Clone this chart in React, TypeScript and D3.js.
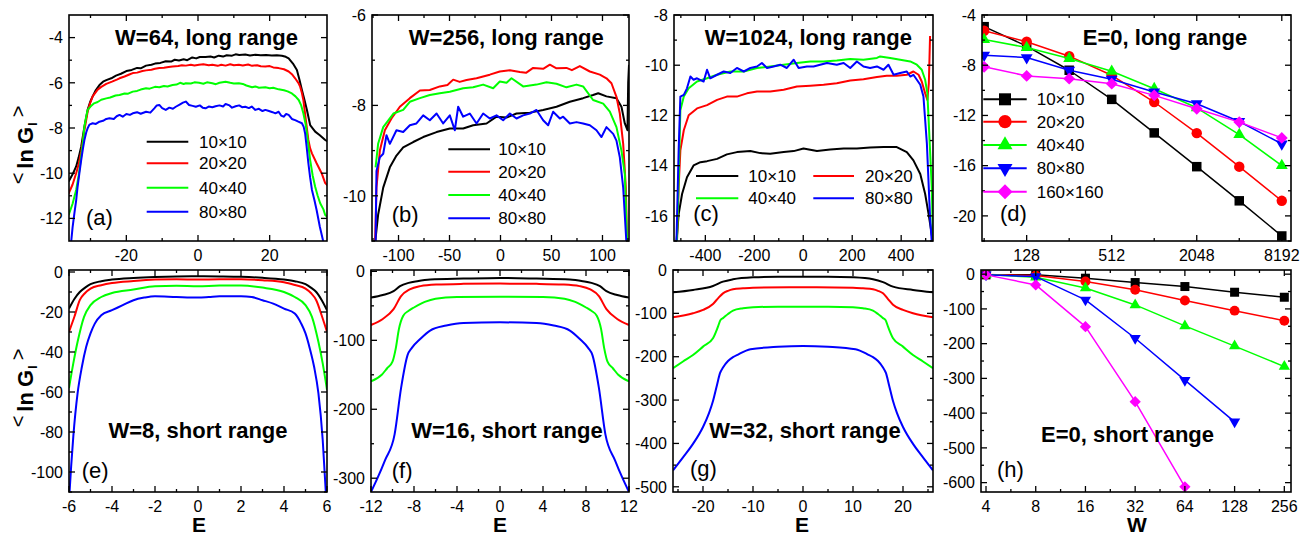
import React from 'react';
import * as d3 from 'd3';

type Pt = [number, number];

const FONT = "'Liberation Sans', Arial, Helvetica, sans-serif";

// ---------- shared labels ----------
const SIZES = ['10×10', '20×20', '40×40', '80×80', '160×160'];
const COLORS = ['#000000', '#ff0000', '#00ff00', '#0000ff', '#ff00ff'];
const MARKERS = ['square', 'circle', 'up', 'down', 'diamond'];

// ---------- (a) W=64, long range ----------
const a10: Pt[] = [[-36.1,-10.37],[-35,-10.05],[-34,-9.7],[-33.3,-9.3],[-32.6,-8.83],[-31.7,-7.94],[-30.8,-7.2],[-30.1,-6.85],[-29.4,-6.6],[-28.5,-6.32],[-27.5,-6.1],[-26.5,-5.95],[-25.6,-5.88],[-24.2,-5.8],[-22.9,-5.68],[-21.5,-5.6],[-20,-5.48],[-18.5,-5.43],[-17,-5.34],[-16,-5.36],[-14.5,-5.24],[-13,-5.2],[-12,-5.15],[-10.5,-5.12],[-9,-5.05],[-7.5,-5.06],[-6.5,-4.98],[-5.3,-5.01],[-4,-4.96],[-3,-5.0],[-1.6,-4.88],[-0.5,-4.92],[0.5,-4.86],[2.1,-4.86],[3.5,-4.84],[4.5,-4.88],[5.8,-4.8],[7,-4.84],[8,-4.78],[9.5,-4.8],[10.5,-4.74],[11.5,-4.77],[13.2,-4.75],[14.5,-4.79],[16,-4.76],[17.5,-4.78],[19,-4.77],[20.6,-4.79],[22,-4.78],[23.4,-4.8],[24.5,-4.85],[25.3,-4.92],[26.5,-5.15],[27.6,-5.43],[28.3,-5.85],[29,-6.32],[29.7,-6.75],[30.4,-7.2],[31.3,-7.87],[32.7,-8.16],[34,-8.32],[35.5,-8.53],[36.2,-8.6]];
const a20: Pt[] = [[-36.1,-10.9],[-35,-10.5],[-34,-10.0],[-33.3,-9.6],[-32.6,-9.05],[-31.7,-8.1],[-30.8,-7.28],[-30.1,-6.9],[-29.4,-6.6],[-28,-6.3],[-27,-6.18],[-25.6,-6.05],[-24,-5.95],[-22.5,-5.85],[-21.9,-5.8],[-20.5,-5.72],[-19,-5.62],[-18.2,-5.57],[-17,-5.55],[-15.5,-5.48],[-14.5,-5.45],[-13,-5.42],[-12,-5.38],[-10.8,-5.35],[-9.5,-5.33],[-8.2,-5.3],[-7.1,-5.28],[-5.5,-5.26],[-4.5,-5.22],[-3.4,-5.24],[-2,-5.2],[-1,-5.23],[0.3,-5.2],[1.5,-5.18],[3,-5.22],[4,-5.2],[5.5,-5.25],[6.5,-5.2],[7.7,-5.24],[9,-5.18],[10,-5.22],[11.4,-5.2],[12.5,-5.23],[14,-5.19],[15.1,-5.25],[16.5,-5.22],[17.5,-5.27],[18.8,-5.28],[20,-5.26],[21,-5.32],[22.5,-5.35],[24,-5.4],[25.3,-5.5],[26.2,-5.62],[27.1,-5.8],[28,-6.0],[28.5,-6.17],[29,-6.45],[29.4,-6.76],[30.1,-7.65],[30.8,-8.53],[31.3,-8.9],[31.8,-9.12],[33.1,-9.56],[34.5,-10.0],[35.5,-10.44],[36.2,-10.55]];
const a40: Pt[] = [[-36.1,-11.85],[-35,-11.35],[-34,-10.74],[-33.3,-10.1],[-32.6,-9.27],[-32.1,-8.6],[-31.7,-7.94],[-31.2,-7.5],[-30.8,-7.2],[-30,-7.05],[-29,-6.91],[-28,-6.85],[-27,-6.75],[-25.6,-6.69],[-24.5,-6.65],[-23,-6.56],[-21.9,-6.54],[-20.5,-6.47],[-19.5,-6.48],[-18.2,-6.39],[-17,-6.36],[-16,-6.3],[-14.5,-6.24],[-13.5,-6.26],[-12,-6.18],[-10.8,-6.2],[-9.5,-6.14],[-8.5,-6.16],[-7.1,-6.1],[-6,-6.08],[-5,-6.0],[-4,-6.05],[-3.4,-6.02],[-2,-6.03],[-1,-5.98],[0.3,-6.0],[1.5,-6.04],[2.5,-5.98],[4,-6.02],[5,-6.06],[6,-6.0],[7.7,-5.95],[9,-6.0],[10,-6.03],[11.4,-6.02],[12.5,-6.05],[13.5,-6.12],[15.1,-6.2],[16,-6.16],[17,-6.22],[18.8,-6.2],[20,-6.24],[21,-6.22],[22.5,-6.29],[24,-6.33],[25,-6.38],[26.2,-6.47],[27.2,-6.6],[28.1,-6.76],[28.8,-7.0],[29.4,-7.35],[30,-7.8],[30.4,-8.24],[30.9,-8.9],[31.3,-9.42],[32,-10.1],[32.7,-10.6],[33.4,-11.0],[34.1,-11.33],[35,-11.6],[35.5,-11.85],[36.2,-11.95]];
const a80: Pt[] = [[-35.4,-13.05],[-35,-12.4],[-34.5,-11.78],[-34,-11.2],[-33.6,-10.6],[-33.1,-10.0],[-32.6,-9.42],[-32.1,-8.9],[-31.7,-8.53],[-31.2,-8.2],[-30.8,-8.01],[-30.3,-7.85],[-29.4,-7.79],[-28.5,-7.82],[-27.5,-7.72],[-26.5,-7.68],[-25.6,-7.6],[-24.7,-7.57],[-23.5,-7.6],[-22.7,-7.48],[-21.9,-7.42],[-21,-7.5],[-20,-7.38],[-19,-7.42],[-18.2,-7.35],[-17,-7.3],[-16,-7.37],[-14.5,-7.28],[-13.3,-7.32],[-12.2,-7.13],[-11.5,-7.0],[-10.8,-6.98],[-10,-7.12],[-9,-7.2],[-8,-7.1],[-7,-7.15],[-6.2,-7.06],[-5,-6.95],[-4.2,-6.88],[-3.4,-6.83],[-2.5,-6.98],[-1.5,-7.02],[-0.6,-7.06],[0.5,-7.0],[1.3,-7.1],[2.1,-7.13],[3,-7.05],[4,-7.08],[4.9,-7.04],[6,-7.0],[7,-7.05],[7.7,-6.94],[8.8,-7.0],[9.5,-7.1],[10.5,-7.04],[11.5,-7.0],[12.3,-7.08],[13.2,-7.06],[14.2,-7.12],[15,-7.05],[16,-7.2],[17,-7.15],[18,-7.25],[18.8,-7.2],[19.8,-7.25],[20.8,-7.3],[21.6,-7.35],[22.5,-7.28],[23.2,-7.45],[23.9,-7.5],[24.6,-7.38],[25.3,-7.42],[26.2,-7.6],[27.1,-7.65],[28,-7.72],[29,-7.79],[29.5,-7.95],[29.9,-8.24],[30.3,-8.8],[30.8,-9.56],[31.3,-10.2],[31.8,-10.74],[32.5,-11.2],[33.1,-11.63],[34,-12.37],[35,-13.05]];

// ---------- (b) W=256, long range ----------
const b10: Pt[] = [[-123,-11.05],[-120,-10.42],[-115,-9.82],[-108.5,-9.37],[-102,-9.11],[-95.4,-8.93],[-85.6,-8.81],[-75.8,-8.7],[-62.7,-8.59],[-49.7,-8.51],[-36.6,-8.51],[-26.8,-8.44],[-13.7,-8.4],[-3.9,-8.25],[5.9,-8.27],[15.7,-8.18],[28.8,-8.16],[41.8,-8.1],[54.9,-8.03],[68,-7.92],[81,-7.84],[90.8,-7.77],[95.8,-7.73],[103.9,-7.8],[113.7,-7.84],[118.6,-8.03],[121.9,-8.4],[124.5,-8.55],[125.2,-7.5],[126,-7.1]];
const b20: Pt[] = [[-123,-11.05],[-121.6,-9.82],[-118.3,-9.0],[-113.4,-8.55],[-106.9,-8.29],[-98.7,-8.03],[-88.9,-7.84],[-79,-7.67],[-69.3,-7.66],[-59.5,-7.58],[-52,-7.55],[-46.4,-7.43],[-40,-7.48],[-33.3,-7.44],[-23.5,-7.4],[-17,-7.36],[-10.5,-7.32],[-0.7,-7.25],[9.2,-7.22],[19,-7.26],[25,-7.28],[32,-7.17],[41.8,-7.19],[48.4,-7.1],[54.9,-7.18],[64.7,-7.17],[70,-7.22],[77.8,-7.13],[87.6,-7.25],[97.4,-7.32],[103.9,-7.4],[108.8,-7.51],[113.7,-7.81],[117,-8.18],[120.3,-8.85],[122.9,-9.82],[124.2,-11.05]];
const b40: Pt[] = [[-122.5,-9.37],[-120,-8.85],[-115,-8.48],[-105,-8.18],[-95.4,-8.1],[-88.9,-7.92],[-79,-7.84],[-69.3,-7.77],[-59.5,-7.73],[-49.7,-7.7],[-36.6,-7.62],[-26.8,-7.6],[-17,-7.54],[-7.2,-7.62],[-0.7,-7.47],[5.9,-7.5],[10.8,-7.4],[22.2,-7.58],[35.3,-7.54],[45.1,-7.49],[54.9,-7.52],[64.7,-7.6],[74.5,-7.54],[81,-7.58],[90.8,-7.88],[100.7,-7.96],[107.2,-8.14],[113.7,-8.48],[118.6,-9.0],[121.9,-9.52],[124.2,-11.05]];
const b80: Pt[] = [[-122.5,-11.05],[-121.6,-9.45],[-118.3,-9.15],[-115,-9.07],[-111.8,-8.66],[-108.5,-8.85],[-102,-8.55],[-95.4,-8.59],[-88.9,-8.44],[-82.4,-8.4],[-75.8,-8.22],[-69.3,-8.33],[-62.7,-8.18],[-56.2,-8.4],[-49.7,-8.22],[-44.8,-8.55],[-41.5,-8.03],[-36.6,-8.25],[-30.1,-8.18],[-23.5,-8.4],[-17,-8.18],[-10.5,-8.29],[-3.9,-8.22],[2.6,-8.33],[9.2,-8.18],[15.7,-8.29],[22.2,-8.22],[28.8,-8.18],[35.3,-8.1],[41.8,-8.33],[46.7,-8.44],[51.6,-8.14],[58.2,-8.29],[61.4,-8.25],[68,-8.4],[74.5,-8.37],[81,-8.4],[87.6,-8.44],[94.1,-8.55],[99,-8.7],[103.9,-8.48],[110.5,-8.63],[113.7,-8.78],[117,-9.15],[120.3,-9.82],[123.5,-11.05]];

// ---------- (c) W=1024, long range ----------
const c10: Pt[] = [[-518,-17.05],[-509,-15.93],[-495,-15.13],[-475,-14.46],[-448,-13.99],[-420,-13.86],[-393,-13.82],[-352,-13.73],[-312,-13.55],[-271,-13.46],[-216,-13.42],[-176,-13.5],[-135,-13.53],[-80,-13.46],[-39,-13.42],[1,-13.32],[56,-13.42],[110,-13.36],[165,-13.32],[219,-13.32],[273,-13.28],[328,-13.26],[382,-13.26],[423,-13.46],[450,-13.79],[478,-14.33],[498,-15.13],[512,-15.93],[525,-16.74],[530,-17.05]];
const c20: Pt[] = [[-516,-17.05],[-509,-14.86],[-502,-13.39],[-488,-12.59],[-468,-11.99],[-434,-11.72],[-393,-11.59],[-352,-11.38],[-312,-11.25],[-271,-11.25],[-230,-11.12],[-189,-11.05],[-135,-11.05],[-80,-10.98],[-26,-10.85],[29,-10.82],[83,-10.78],[137,-10.72],[192,-10.61],[246,-10.56],[301,-10.47],[341,-10.42],[382,-10.42],[423,-10.38],[450,-10.25],[471,-10.38],[484,-10.65],[498,-11.12],[507,-11.38],[513,-10.72],[518,-8.84]];
const c40: Pt[] = [[-516,-17.05],[-509,-14.6],[-502,-11.79],[-488,-11.25],[-468,-10.92],[-434,-10.65],[-393,-10.52],[-352,-10.38],[-298,-10.25],[-243,-10.25],[-189,-10.11],[-135,-10.05],[-80,-9.98],[-26,-9.91],[29,-9.85],[83,-9.85],[137,-9.81],[192,-9.75],[246,-9.78],[301,-9.71],[314,-9.65],[355,-9.71],[396,-9.78],[437,-9.85],[464,-9.98],[484,-10.18],[498,-10.58],[507,-11.12],[516,-12.99],[525,-14.86],[530,-17.05]];
const c80: Pt[] = [[-518,-17.05],[-509,-13.39],[-502,-11.25],[-488,-11.18],[-475,-10.92],[-461,-10.45],[-448,-10.58],[-434,-10.52],[-407,-10.65],[-393,-10.18],[-380,-10.52],[-352,-10.38],[-325,-10.25],[-298,-10.31],[-271,-10.11],[-243,-10.25],[-216,-10.11],[-189,-10.05],[-169,-9.91],[-148,-10.11],[-121,-10.05],[-94,-9.98],[-67,-10.11],[-39,-9.78],[-19,-10.11],[15,-10.05],[42,-10.05],[69,-9.98],[97,-9.91],[137,-9.98],[165,-9.91],[192,-10.11],[219,-9.85],[246,-10.05],[273,-10.11],[301,-10.05],[328,-10.18],[348,-9.98],[369,-10.38],[396,-10.31],[423,-10.25],[437,-10.45],[450,-10.38],[464,-10.58],[478,-10.78],[491,-11.25],[505,-13.12],[518,-16.07],[525,-17.05]];

// ---------- (d) E=0, long range ----------
const dW = [64, 128, 256, 512, 1024, 2048, 4096, 8192];
const d10 = [-4.93, -6.48, -8.4, -10.72, -13.39, -16.08, -18.8, -21.6];
const d20 = [-5.25, -6.13, -7.28, -8.8, -10.93, -13.41, -16.08, -18.8];
const d40 = [-5.95, -6.59, -7.47, -8.48, -9.87, -11.39, -13.52, -16.0];
const d80 = [-7.2, -7.39, -8.4, -9.12, -10.13, -11.07, -12.48, -14.27];
const d160 = [-8.13, -8.85, -9.07, -9.47, -10.4, -11.47, -12.53, -13.79];

// ---------- (e) W=8, short range ----------
const e10: Pt[] = [[-6,-18.3],[-5.75,-13.5],[-5.5,-10],[-5.25,-7.8],[-5,-6.1],[-4.5,-4.6],[-4,-3.8],[-3,-3.0],[-2,-2.5],[-1,-2.2],[0,-2.1],[1,-2.2],[2,-2.4],[3,-2.9],[4,-3.8],[4.5,-4.6],[5,-6.1],[5.25,-7.8],[5.5,-10],[5.75,-14],[6,-19.1]];
const e20: Pt[] = [[-6,-29.9],[-5.75,-22.4],[-5.5,-14.1],[-5.25,-10.5],[-5,-8.3],[-4.5,-6.6],[-4,-5.5],[-3,-4.5],[-2,-3.8],[-1,-3.6],[0,-3.8],[1,-3.6],[2,-3.6],[3,-4.1],[4,-5.1],[4.5,-6.5],[5,-8.3],[5.25,-10.5],[5.5,-14.1],[5.75,-21.6],[6,-29.9]];
const e40: Pt[] = [[-6,-58],[-5.8,-45.7],[-5.6,-34.9],[-5.3,-22.4],[-5,-16.6],[-4.5,-12.5],[-4,-10.5],[-3,-8.8],[-2,-7.1],[-1,-6.9],[0,-7.1],[1,-6.8],[2,-6.8],[3,-7.8],[4,-10],[4.5,-12.5],[5,-16.6],[5.3,-22.4],[5.6,-34.9],[5.8,-45.7],[6,-58.9]];
const e80: Pt[] = [[-5.98,-111],[-5.9,-97.2],[-5.8,-82.3],[-5.6,-60.6],[-5.4,-47.4],[-5.2,-37.4],[-5,-30.7],[-4.8,-25.8],[-4.5,-21.6],[-4,-19.1],[-3.5,-16.6],[-3,-14.1],[-2.5,-12.8],[-2,-12.1],[-1,-12.5],[0,-12.8],[0.5,-12.5],[1,-12.1],[2,-12.1],[2.5,-12.5],[3,-14.1],[3.5,-15.8],[4,-18.3],[4.5,-20.8],[4.8,-25.8],[5,-30.7],[5.2,-38.2],[5.4,-47.4],[5.6,-60.6],[5.8,-83.9],[5.95,-111]];

// ---------- (f) W=16, short range ----------
const f10: Pt[] = [[-12,-38],[-10.9,-34.3],[-9.9,-28.6],[-9.3,-21.4],[-8.5,-16.7],[-7.7,-14.3],[-6.5,-11.9],[-3.4,-10.5],[0,-9.5],[3.4,-10.5],[6.5,-11.9],[7.7,-14.3],[8.5,-16.7],[9.3,-21.4],[9.9,-28.6],[10.9,-34.3],[12,-38]];
const f20: Pt[] = [[-12,-77.7],[-10.9,-69],[-9.9,-54.8],[-9.2,-35.8],[-8.4,-26.2],[-7.4,-21.4],[-5.9,-19.1],[-3.4,-18.1],[0,-17.7],[3.4,-18.1],[5.9,-19.1],[7.4,-21.4],[8.4,-26.2],[9.2,-35.8],[9.9,-54.8],[10.9,-69],[12,-77.7]];
const f40: Pt[] = [[-12,-159.6],[-11,-150],[-10.5,-140.5],[-10,-131],[-9.7,-112],[-9.4,-83.4],[-9,-64.3],[-8.5,-57.2],[-8,-52.4],[-7,-44.3],[-6,-39.6],[-4,-37.2],[0,-36.7],[4,-37.2],[6,-39.6],[7,-44.3],[8,-52.4],[8.5,-57.2],[9,-64.3],[9.4,-83.4],[9.7,-112],[10,-131],[10.5,-140.5],[11,-150],[12,-159.6]];
const f80: Pt[] = [[-12,-320],[-11.4,-300],[-10.7,-274],[-9.8,-236],[-9.2,-169],[-8.6,-121.5],[-8.2,-111],[-7.4,-97.7],[-6.5,-85.8],[-5,-78.6],[-3.4,-74.8],[0,-73.9],[3.4,-74.8],[5,-78.6],[6.5,-85.8],[7.4,-97.7],[8.2,-111],[8.6,-121.5],[9.2,-169],[9.8,-236],[10.7,-274],[11.4,-300],[12,-320]];

// ---------- (g) W=32, short range ----------
const g10: Pt[] = [[-26,-51.5],[-22,-46],[-18,-36.9],[-16,-26.9],[-14,-21.5],[-10,-16.9],[-5,-15.4],[0,-15.4],[5,-15.4],[10,-16.9],[14,-21.5],[16,-28],[18,-38.4],[22,-46],[26,-51.5]];
const g20: Pt[] = [[-26,-109],[-22,-99.8],[-20,-92],[-18,-78.3],[-17,-65.3],[-16,-53.8],[-15,-48],[-14,-44.5],[-12,-42.2],[-10,-40.7],[0,-39.9],[10,-40.7],[12,-42.2],[14,-44.5],[15,-48],[16,-53.8],[17,-67],[18,-80],[20,-92],[22,-99.8],[26,-109]];
const g40: Pt[] = [[-26,-226.6],[-24,-211],[-22,-195.9],[-20,-176.7],[-18,-157.4],[-17,-130.6],[-16.5,-115.2],[-16,-111],[-15,-101.4],[-14,-93.7],[-12,-88.3],[-10,-86],[-5,-84.5],[0,-84.5],[5,-84.5],[10,-86],[12,-88.3],[14,-93.7],[15,-101.4],[16,-111],[16.5,-115.2],[17,-130.6],[18,-157.4],[20,-176.7],[22,-195.9],[24,-211],[26,-226.6]];
const g80: Pt[] = [[-26,-462],[-24,-432],[-22,-401],[-20,-362],[-18.8,-330],[-18,-302],[-17.2,-265],[-16.6,-238],[-16,-225],[-15,-210],[-14,-201],[-13,-195],[-10.5,-183],[-5,-177],[0,-175],[5,-177],[10.5,-183],[13,-195],[14,-201],[15,-210],[16,-225],[16.6,-238],[17.2,-265],[18,-302],[18.8,-330],[20,-362],[22,-401],[24,-432],[26,-462]];

// ---------- (h) E=0, short range ----------
const hW = [4, 8, 16, 32, 64, 128, 256];
const h10 = [-2, -2, -11.6, -24.1, -35.6, -52, -66.4];
const h20 = [-1, -4, -21, -45, -76, -105, -134];
const h40 = [-1, -9, -40, -88.5, -149, -207, -266];
const h80 = [-2, -7, -74, -184.5, -305, -425];
const h160 = [-2, -31, -151, -367, -612];

// ---------- tick values ----------
const aXTicks = [-20, 0, 20];
const aYTicks = [-4, -6, -8, -10, -12];
const bXTicks = [-100, -50, 0, 50, 100];
const bYTicks = [-6, -8, -10];
const cXTicks = [-400, -200, 0, 200, 400];
const cYTicks = [-8, -10, -12, -14, -16];
const dXTicks = [128, 512, 2048, 8192];
const dYTicks = [-4, -8, -12, -16, -20];
const eXTicks = [-6, -4, -2, 0, 2, 4, 6];
const eYTicks = [0, -20, -40, -60, -80, -100];
const fXTicks = [-12, -8, -4, 0, 4, 8, 12];
const fYTicks = [0, -100, -200, -300];
const gXTicks = [-20, -10, 0, 10, 20];
const gYTicks = [0, -100, -200, -300, -400, -500];
const hXTicks = [4, 8, 16, 32, 64, 128, 256];
const hYTicks = [0, -100, -200, -300, -400, -500, -600];

const zip = (xs: number[], ys: number[]): Pt[] => ys.map((y, i) => [xs[i], y] as Pt);
const mid = (t: number[]) => t.slice(0, -1).map((v, i) => (v + t[i + 1]) / 2);

interface LegendItem { label: string; color: string; marker?: string; lx1: number; lx2: number; ly: number; tx: number; }
interface PanelCfg {
  x0: number; x1: number; y0: number; y1: number;
  xDomain: [number, number]; yDomain: [number, number]; xLog?: boolean;
  xMajor: number[]; xMinor: number[]; yMajor: number[]; yMinor: number[];
  series: Pt[][]; markers?: boolean; markerW?: number; smooth?: boolean; lw: number;
  title: string; titleX: number; titleY: number;
  tag: string; tagX: number; tagY: number;
  legend?: LegendItem[];
}

const legendCol = (n: number, lx1: number, lx2: number, tx: number, rows: number[], markers = false): LegendItem[] =>
  rows.slice(0, n).map((ly, i) => ({ label: SIZES[i], color: COLORS[i], marker: markers ? MARKERS[i] : undefined, lx1, lx2, ly, tx }));

const TOP = [15, 241];
const BOT = [270, 492];

const panels: PanelCfg[] = [
  {
    x0: 69, x1: 327, y0: TOP[0], y1: TOP[1], xDomain: [-36, 36], yDomain: [-13, -3],
    xMajor: aXTicks, xMinor: [-30, -10, 10, 30], yMajor: aYTicks, yMinor: [-5, -7, -9, -11],
    series: [a10, a20, a40, a80], lw: 2,
    title: 'W=64, long range', titleX: 206.5, titleY: 45, tag: '(a)', tagX: 86, tagY: 225,
    legend: legendCol(4, 146.7, 188.3, 199, [141.7, 163.3, 187.7, 211.7]),
  },
  {
    x0: 372, x1: 629, y0: TOP[0], y1: TOP[1], xDomain: [-126, 126], yDomain: [-11, -6],
    xMajor: bXTicks, xMinor: [-125, -75, -25, 25, 75, 125], yMajor: bYTicks, yMinor: [-7, -9, -11],
    series: [b10, b20, b40, b80], lw: 2,
    title: 'W=256, long range', titleX: 506.3, titleY: 45, tag: '(b)', tagX: 391.7, tagY: 222,
    legend: legendCol(4, 448.3, 490, 498.3, [149.3, 171.7, 195, 218.3]),
  },
  {
    x0: 674, x1: 933, y0: TOP[0], y1: TOP[1], xDomain: [-528, 530], yDomain: [-17, -8],
    xMajor: cXTicks, xMinor: [-500, -300, -100, 100, 300, 500], yMajor: cYTicks, yMinor: [-9, -11, -13, -15, -17],
    series: [c10, c20, c40, c80], lw: 2,
    title: 'W=1024, long range', titleX: 808.3, titleY: 45, tag: '(c)', tagX: 693.3, tagY: 221,
    legend: [
      { label: SIZES[0], color: COLORS[0], lx1: 696, lx2: 738.3, ly: 176, tx: 748.3 },
      { label: SIZES[1], color: COLORS[1], lx1: 813.3, lx2: 854, ly: 176, tx: 865 },
      { label: SIZES[2], color: COLORS[2], lx1: 696, lx2: 738.3, ly: 198.3, tx: 748.3 },
      { label: SIZES[3], color: COLORS[3], lx1: 813.3, lx2: 854, ly: 198.3, tx: 865 },
    ],
  },
  {
    x0: 982, x1: 1291, y0: TOP[0], y1: TOP[1], xDomain: [61.8, 9520], xLog: true, yDomain: [-22, -4],
    xMajor: dXTicks, xMinor: [64, 256, 1024, 4096], yMajor: dYTicks, yMinor: [-6, -10, -14, -18, -22],
    series: [zip(dW, d10), zip(dW, d20), zip(dW, d40), zip(dW, d80), zip(dW, d160)], markers: true, markerW: 9.5, lw: 1.5,
    title: 'E=0, long range', titleX: 1165, titleY: 45, tag: '(d)', tagX: 1000, tagY: 221,
    legend: legendCol(5, 983.3, 1026.7, 1036.7, [99.3, 121.7, 145, 168.3, 191.7], true),
  },
  {
    x0: 69, x1: 327, y0: BOT[0], y1: BOT[1], xDomain: [-6, 6], yDomain: [-110, 1],
    xMajor: eXTicks, xMinor: mid(eXTicks), yMajor: eYTicks, yMinor: mid(eYTicks).concat([-110]),
    series: [e10, e20, e40, e80], smooth: true, lw: 2,
    title: 'W=8, short range', titleX: 198, titleY: 438.3, tag: '(e)', tagX: 81.7, tagY: 478,
  },
  {
    x0: 371, x1: 629, y0: BOT[0], y1: BOT[1], xDomain: [-12, 12], yDomain: [-320, 2],
    xMajor: fXTicks, xMinor: mid(fXTicks), yMajor: fYTicks, yMinor: mid(fYTicks),
    series: [f10, f20, f40, f80], smooth: true, lw: 2,
    title: 'W=16, short range', titleX: 507, titleY: 438.3, tag: '(f)', tagX: 391.7, tagY: 478,
  },
  {
    x0: 673, x1: 933, y0: BOT[0], y1: BOT[1], xDomain: [-26, 26], yDomain: [-512, 0],
    xMajor: gXTicks, xMinor: [-25, -15, -5, 5, 15, 25], yMajor: gYTicks, yMinor: mid(gYTicks),
    series: [g10, g20, g40, g80], smooth: true, lw: 2,
    title: 'W=32, short range', titleX: 805, titleY: 438.3, tag: '(g)', tagX: 690, tagY: 476,
  },
  {
    x0: 981, x1: 1291, y0: BOT[0], y1: BOT[1], xDomain: [3.73, 281], xLog: true, yDomain: [-627, 12],
    xMajor: hXTicks, xMinor: hXTicks.slice(0, -1).map(v => v * Math.SQRT2), yMajor: hYTicks, yMinor: mid(hYTicks),
    series: [zip(hW, h10), zip(hW, h20), zip(hW, h40), zip(hW, h80), zip(hW, h160)], markers: true, markerW: 9, lw: 1.5,
    title: 'E=0, short range', titleX: 1127.5, titleY: 441.7, tag: '(h)', tagX: 997, tagY: 477,
  },
];

function markerPath(kind: string, w: number): { d: string; rot: number } {
  let type: d3.SymbolType = d3.symbolSquare;
  let size = w * w;
  let rot = 0;
  if (kind === 'circle') { type = d3.symbolCircle; size = Math.PI * (w * 0.55) * (w * 0.55); }
  else if (kind === 'up' || kind === 'down') { type = d3.symbolTriangle; const s = w * 1.25; size = (s * s * Math.sqrt(3)) / 4; rot = kind === 'down' ? 180 : 0; }
  else if (kind === 'diamond') { const side = (w * 1.25) / Math.SQRT2; size = side * side; rot = 45; }
  return { d: d3.symbol(type, size)() || '', rot };
}

function Marker({ kind, x, y, w, color }: { kind: string; x: number; y: number; w: number; color: string }) {
  const m = markerPath(kind, w);
  return <path d={m.d} transform={`translate(${x},${y}) rotate(${m.rot})`} fill={color} stroke="none" />;
}

function Panel({ cfg, idx }: { cfg: PanelCfg; idx: number }) {
  const xs: any = cfg.xLog
    ? d3.scaleLog().base(2).domain(cfg.xDomain).range([cfg.x0, cfg.x1])
    : d3.scaleLinear().domain(cfg.xDomain).range([cfg.x0, cfg.x1]);
  const ys = d3.scaleLinear().domain(cfg.yDomain).range([cfg.y1, cfg.y0]);
  const line = d3.line<Pt>().x(d => xs(d[0])).y(d => ys(d[1])).curve(cfg.smooth ? d3.curveMonotoneX : d3.curveLinear);
  const clipId = `clip${idx}`;
  const MAJ = 6, MIN = 3;
  const tickLines: any[] = [];
  const addX = (vals: number[], len: number, key: string) => vals.forEach((v, i) => {
    const x = xs(v);
    tickLines.push(<line key={`${key}b${i}`} x1={x} x2={x} y1={cfg.y1} y2={cfg.y1 - len} />);
    tickLines.push(<line key={`${key}t${i}`} x1={x} x2={x} y1={cfg.y0} y2={cfg.y0 + len} />);
  });
  const addY = (vals: number[], len: number, key: string) => vals.forEach((v, i) => {
    const y = ys(v);
    tickLines.push(<line key={`${key}l${i}`} x1={cfg.x0} x2={cfg.x0 + len} y1={y} y2={y} />);
    tickLines.push(<line key={`${key}r${i}`} x1={cfg.x1} x2={cfg.x1 - len} y1={y} y2={y} />);
  });
  addX(cfg.xMajor, MAJ, 'xM'); addX(cfg.xMinor, MIN, 'xm');
  addY(cfg.yMajor, MAJ, 'yM'); addY(cfg.yMinor, MIN, 'ym');

  return (
    <g>
      <defs>
        <clipPath id={clipId}>
          <rect x={cfg.x0} y={cfg.y0} width={cfg.x1 - cfg.x0} height={cfg.y1 - cfg.y0} />
        </clipPath>
      </defs>
      <g clipPath={`url(#${clipId})`}>
        {cfg.series.map((s, i) => (
          <g key={i}>
            <path d={line(s) || ''} fill="none" stroke={COLORS[i]} strokeWidth={cfg.lw} strokeLinejoin="round" />
            {cfg.markers && s.map((p, j) => (
              <Marker key={j} kind={MARKERS[i]} x={xs(p[0])} y={ys(p[1])} w={cfg.markerW || 9} color={COLORS[i]} />
            ))}
          </g>
        ))}
      </g>
      <rect x={cfg.x0} y={cfg.y0} width={cfg.x1 - cfg.x0} height={cfg.y1 - cfg.y0} fill="none" stroke="#000" strokeWidth={1.6} />
      <g stroke="#000" strokeWidth={1.3}>{tickLines}</g>
      <g fontSize={16} fill="#000">
        {cfg.xMajor.map((v, i) => (
          <text key={`xl${i}`} x={xs(v)} y={cfg.y1 + 20} textAnchor="middle">{String(v)}</text>
        ))}
        {cfg.yMajor.map((v, i) => (
          <text key={`yl${i}`} x={cfg.x0 - 6} y={ys(v)} dy="0.36em" textAnchor="end">{String(v)}</text>
        ))}
      </g>
      <text x={cfg.titleX} y={cfg.titleY} textAnchor="middle" fontSize={22} fontWeight="bold">{cfg.title}</text>
      <text x={cfg.tagX} y={cfg.tagY} fontSize={22}>{cfg.tag}</text>
      {cfg.legend && cfg.legend.map((it, i) => (
        <g key={`lg${i}`}>
          <line x1={it.lx1} x2={it.lx2} y1={it.ly} y2={it.ly} stroke={it.color} strokeWidth={2} />
          {it.marker && <Marker kind={it.marker} x={(it.lx1 + it.lx2) / 2} y={it.ly} w={12} color={it.color} />}
          <text x={it.tx} y={it.ly + 6} fontSize={17}>{it.label}</text>
        </g>
      ))}
    </g>
  );
}

function YLabel({ y }: { y: number }) {
  return (
    <text transform={`translate(33,${y}) rotate(-90)`} textAnchor="middle" fontSize={22}>
      <tspan fontWeight="normal" fontSize={20} dy={-8}>{'<'}</tspan>
      <tspan fontWeight="bold" dy={8} dx={4}>ln</tspan>
      <tspan fontWeight="bold" dx={5}>G</tspan>
      <tspan fontWeight="bold" fontSize={13} dy={4} dx={1}>l</tspan>
      <tspan fontWeight="normal" fontSize={20} dy={-12} dx={5}>{'>'}</tspan>
    </text>
  );
}

export default function App() {
  return (
    <svg width={1309} height={538} style={{ position: 'absolute', left: 0, top: 0, background: '#fff' }}
      fontFamily={FONT}>
      <rect x={0} y={0} width={1309} height={538} fill="#fff" />
      {panels.map((p, i) => <Panel key={i} cfg={p} idx={i} />)}
      <YLabel y={145} />
      <YLabel y={388} />
      <g fontSize={21} fontWeight="bold" textAnchor="middle">
        <text x={199} y={532}>E</text>
        <text x={500} y={532}>E</text>
        <text x={802} y={532}>E</text>
        <text x={1137} y={532}>W</text>
      </g>
    </svg>
  );
}
